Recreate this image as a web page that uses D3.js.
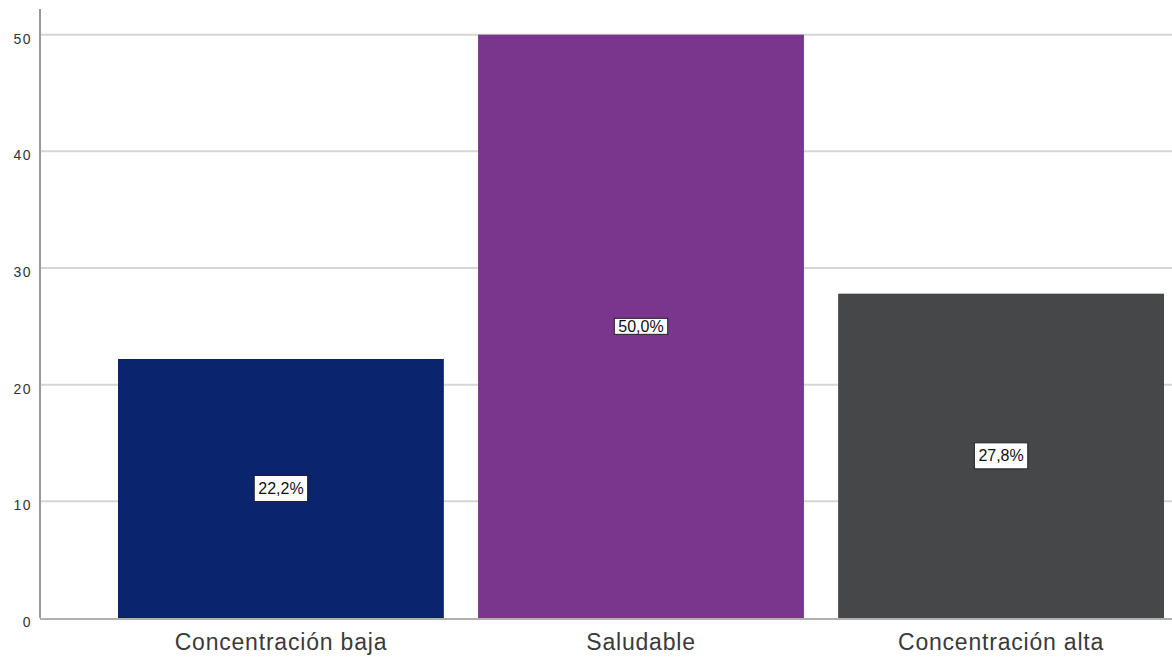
<!DOCTYPE html>
<html>
<head>
<meta charset="utf-8">
<script src="https://cdn.jsdelivr.net/npm/d3@7"></script>
<style>
  html, body { margin: 0; padding: 0; background: #ffffff; }
  svg { display: block; font-family: "Liberation Sans", Arial, sans-serif; }
</style>
</head>
<body>
<svg id="chart" width="1172" height="657"></svg>
<script>
const categories = ["Concentración baja", "Saludable", "Concentración alta"];
const values = [22.2, 50.0, 27.8];
const valueLabels = ["22,2%", "50,0%", "27,8%"];
const barColors = ["#0b246e", "#7a358c", "#454749"];
const yTicks = [0, 10, 20, 30, 40, 50];

const W = 1172, H = 657;
const left = 40, right = 1172;
const svg = d3.select("#chart");

const x = d3.scaleBand()
  .domain(categories)
  .range([100, 1182])
  .paddingInner(0.095)
  .paddingOuter(0.05);

const y = d3.scaleLinear().domain([0, 52.2]).range([618, 9]);

// gridlines
svg.append("g")
  .selectAll("line")
  .data(yTicks.filter(d => d > 0))
  .join("line")
  .attr("x1", left).attr("x2", right)
  .attr("y1", d => y(d)).attr("y2", d => y(d))
  .attr("stroke", "#d6d6d6").attr("stroke-width", 2);

// bars
svg.append("g")
  .selectAll("rect")
  .data(categories)
  .join("rect")
  .attr("x", d => x(d))
  .attr("width", x.bandwidth())
  .attr("y", (d, i) => y(values[i]))
  .attr("height", (d, i) => y(0) - y(values[i]))
  .attr("fill", (d, i) => barColors[i]);

// y axis
const yAxis = d3.axisLeft(y).tickValues(yTicks).tickSize(0).tickPadding(8).tickFormat(d3.format("d"));
const gy = svg.append("g").attr("transform", `translate(${left},0)`).call(yAxis);
gy.select(".domain").remove();
gy.selectAll("text")
  .attr("font-size", 14)
  .attr("fill", "#333")
  .attr("letter-spacing", "1.5px")
  .attr("dy", "0.6em");
svg.append("line")
  .attr("x1", left).attr("x2", left)
  .attr("y1", y(52.2)).attr("y2", y(0))
  .attr("stroke", "#9a9a9a").attr("stroke-width", 2);

// x baseline
svg.append("line")
  .attr("x1", left).attr("x2", right)
  .attr("y1", y(0) + 1).attr("y2", y(0) + 1)
  .attr("stroke", "#b0b0b0").attr("stroke-width", 2);

// x axis labels
const xAxis = d3.axisBottom(x).tickSize(0).tickPadding(0);
const gx = svg.append("g").attr("transform", `translate(0,${y(0)})`).call(xAxis);
gx.select(".domain").remove();
gx.selectAll("text")
  .attr("font-size", 23)
  .attr("fill", "#3a3a3a")
  .attr("letter-spacing", "0.8px")
  .attr("dy", null)
  .attr("y", 32);

// value labels
const lg = svg.append("g");
categories.forEach((c, i) => {
  const cx = x(c) + x.bandwidth() / 2;
  const cy = y(values[i] / 2);
  const g = lg.append("g");
  const t = g.append("text")
    .attr("x", cx).attr("y", cy)
    .attr("text-anchor", "middle")
    .attr("dominant-baseline", "central")
    .attr("font-size", 16)
    .attr("fill", "#111")
    .text(valueLabels[i]);
  const w = t.node().getComputedTextLength() + 8;
  g.insert("rect", "text")
    .attr("x", cx - w / 2).attr("y", cy - (i === 1 ? 8 : 13))
    .attr("width", w).attr("height", i === 1 ? 16 : 26)
    .attr("fill", "#fff").attr("stroke", "#222").attr("stroke-width", 1);
});
</script>
</body>
</html>
